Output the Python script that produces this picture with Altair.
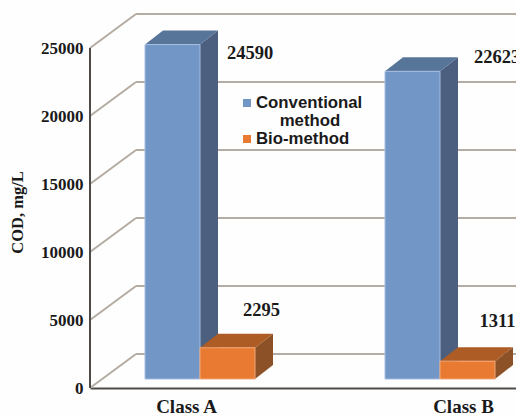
import altair as alt
import pandas as pd

# Chart values
classes = ["Class A", "Class B"]
conventional = [24590, 22623]
bio_method = [2295, 1311]
y_ticks = [0, 5000, 10000, 15000, 20000, 25000]

# Pseudo-3D projection: depth moves things right and up on the page
PX_PER_COD = 0.0136
WALL_DX = 46
WALL_SHIFT = 34 / PX_PER_COD
BAR_FLOOR = 9 / PX_PER_COD
BAR_DX = 18
BAR_SHIFT = 14 / PX_PER_COD
BAR_W = 55
GROUP_LEFT = {"Class A": 145, "Class B": 385}
AXIS_X = 90
RIGHT_EDGE = 516
PLOT_H = 388

GRID = "#b4aca3"
AXIS_DARK = "#4d4a47"
INK = "#1a1a1a"
SERIF = "Liberation Serif"
SANS = "Liberation Sans"

FACES = {
    "Conventional": {"front": "#7296c6", "edge": "#a5bee0", "side": "#4d5f7e", "top": "#577599"},
    "Bio-method": {"front": "#e97a32", "edge": "#f2a877", "side": "#8d5127", "top": "#ae5c25"},
}

x_scale = alt.Scale(domain=[AXIS_X, RIGHT_EDGE], range=[0, RIGHT_EDGE - AXIS_X], nice=False, zero=False)
y_scale = alt.Scale(domain=[0, PLOT_H / PX_PER_COD], range=[PLOT_H, 0], nice=False, zero=False)

x_axis = alt.Axis(
    values=[186, 463],
    labelExpr=f"datum.value < 300 ? '{classes[0]}' : '{classes[1]}'",
    title=None, grid=False, ticks=False, domain=True, domainColor=AXIS_DARK, domainWidth=2,
    labelFont=SERIF, labelFontWeight="bold", labelFontSize=19, labelColor=INK,
    labelPadding=9, labelFlush=False, labelOverlap=False)
y_axis = alt.Axis(
    values=y_ticks, format="d", title="COD, mg/L", grid=False, ticks=False, domain=False,
    labelFont=SERIF, labelFontWeight="bold", labelFontSize=17, labelColor=INK, labelPadding=7,
    labelOverlap=False, labelFlush=False,
    titleFont=SERIF, titleFontWeight="bold", titleFontSize=16.5, titleColor=INK,
    titleX=-65, titleY=212)


def xe(field):
    return alt.X(f"{field}:Q", scale=x_scale, axis=x_axis)


def ye(field):
    return alt.Y(f"{field}:Q", scale=y_scale, axis=y_axis)


def bar_tables(values, slot):
    """Front, side and top faces of one series' boxes."""
    front, side, top = [], [], []
    for cls, v in zip(classes, values):
        x0 = GROUP_LEFT[cls] + slot * BAR_W
        x1 = x0 + BAR_W
        base = BAR_FLOOR
        front.append({"bar": cls, "x": x0, "x2": x1, "y": base + v, "y2": base})
        for k in (0, 1):
            side.append({"bar": cls, "x": x1 + k * BAR_DX,
                         "y": base + v + k * BAR_SHIFT, "y2": base + k * BAR_SHIFT})
            top.append({"bar": cls, "y": base + v + k * BAR_SHIFT,
                        "x": x0 + k * BAR_DX, "x2": x1 + k * BAR_DX})
    return pd.DataFrame(front), pd.DataFrame(side), pd.DataFrame(top)


def bars(series, values, slot):
    front, side, top = bar_tables(values, slot)
    c = FACES[series]
    side_face = alt.Chart(side).mark_area(color=c["side"]).encode(
        x=xe("x"), y=ye("y"), y2="y2:Q", detail="bar:N")
    top_face = alt.Chart(top).mark_area(color=c["top"], orient="horizontal").encode(
        y=ye("y"), x=xe("x"), x2="x2:Q", detail="bar:N")
    front_face = alt.Chart(front).mark_rect(color=c["front"], stroke=c["edge"], strokeWidth=1).encode(
        x=xe("x"), x2="x2:Q", y=ye("y"), y2="y2:Q")
    return [side_face, top_face, front_face]


# Walls of the box: rules on the left wall and the back wall
left_wall = pd.DataFrame({"x": AXIS_X, "x2": AXIS_X + WALL_DX,
                          "y": y_ticks, "y2": [t + WALL_SHIFT for t in y_ticks]})
back_wall = pd.DataFrame({"x": AXIS_X + WALL_DX, "x2": RIGHT_EDGE,
                          "y": [t + WALL_SHIFT for t in y_ticks]})

left_rules = alt.Chart(left_wall).mark_rule(color=GRID, strokeWidth=2).encode(
    x=xe("x"), x2="x2:Q", y=ye("y"), y2="y2:Q")
back_rules = alt.Chart(back_wall).mark_rule(color=GRID, strokeWidth=2).encode(
    x=xe("x"), x2="x2:Q", y=ye("y"))
axis_rule = alt.Chart(pd.DataFrame({"x": [AXIS_X], "y": [0], "y2": [y_ticks[-1]]})).mark_rule(
    color=AXIS_DARK, strokeWidth=2
).encode(x=xe("x"), y=ye("y"), y2="y2:Q")


def caption(text, px, py, font=SERIF, size=18.5, align="left"):
    return alt.Chart(pd.DataFrame({"t": [text]})).mark_text(
        font=font, fontWeight="bold", fontSize=size, color=INK, align=align, baseline="middle", clip=False
    ).encode(text="t:N", x=alt.value(px - AXIS_X), y=alt.value(py))


# Value callouts, each placed by hand beside its box
value_labels = [
    caption(str(conventional[0]), 227, 53),
    caption(str(bio_method[0]), 243, 310),
    caption(str(conventional[1]), 474, 57),
    caption(str(bio_method[1]), 479.5, 321),
]


# Key
def swatch(color, py):
    return alt.Chart(pd.DataFrame({"k": [0]})).mark_square(size=64, color=color, opacity=1).encode(
        x=alt.value(247 - AXIS_X), y=alt.value(py))


key = [
    swatch(FACES["Conventional"]["front"], 103),
    swatch(FACES["Bio-method"]["front"], 139),
    caption("Conventional", 256, 103, SANS, 16.8),
    caption("method", 310, 120.5, SANS, 16.8, "center"),
    caption("Bio-method", 256, 139, SANS, 16.8),
]

chart = alt.layer(
    left_rules,
    back_rules,
    axis_rule,
    *bars("Conventional", conventional, 0),
    *bars("Bio-method", bio_method, 1),
    *key,
    *value_labels,
).properties(
    width=RIGHT_EDGE - AXIS_X,
    height=PLOT_H,
    padding={"left": AXIS_X, "top": 0, "right": 0, "bottom": 27},
    autosize=alt.AutoSizeParams(type="none"),
    background="#fefefe",
).configure_view(stroke=None)

chart.save("out.html", embed_options={"renderer": "svg", "actions": False})
